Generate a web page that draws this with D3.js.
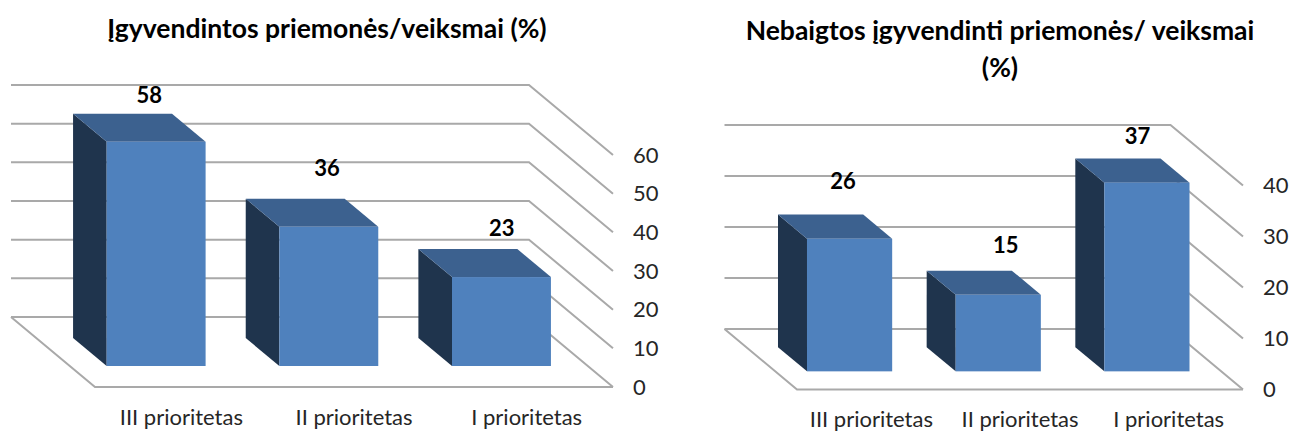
<!DOCTYPE html>
<html>
<head>
<meta charset="utf-8">
<script src="https://cdn.jsdelivr.net/npm/d3@7"></script>
<style>
  html, body { margin: 0; padding: 0; background: #fff; }
  svg { display: block; font-family: Lato, "Open Sans", sans-serif; }
</style>
</head>
<body>
<div id="chart"></div>
<script>
// values
var categories = ["III prioritetas", "II prioritetas", "I prioritetas"];
var doneValues = [58, 36, 23];
var unfinishedValues = [26, 15, 37];
var doneTicks = [0, 10, 20, 30, 40, 50, 60];
var unfinishedTicks = [0, 10, 20, 30, 40];
var doneTitle = ["Įgyvendintos priemonės/veiksmai (%)"];
var unfinishedTitle = ["Nebaigtos įgyvendinti priemonės/ veiksmai", "(%)"];

var svg = d3.select("#chart").append("svg")
  .attr("width", 1291)
  .attr("height", 433);

function drawChart(o) {
  var g = svg.append("g");

  // x and y are scales on the front edge of the floor
  var x = d3.scaleBand().domain(categories).range([o.left, o.right]);
  var y = d3.scaleLinear().domain([0, d3.max(o.ticks)]).range([o.bottom, o.top]);

  // move a point back into the depth of the box, t = 0 front, t = 1 back wall
  function px(v, t) { return v - t * o.dx; }
  function py(v, t) { return v - t * o.dy; }

  var line = d3.line();

  // walls: gridline on the back wall then the diagonal on the side wall
  g.selectAll(".grid").data(o.ticks).enter().append("path")
    .attr("class", "grid")
    .attr("fill", "none")
    .attr("stroke", "#a9a9a9")
    .attr("stroke-width", 2)
    .attr("d", function (d) {
      return line([
        [px(o.left, 1), py(y(d), 1)],
        [px(o.right, 1), py(y(d), 1)],
        [o.right, y(d)]
      ]);
    });

  // floor
  g.append("path")
    .attr("fill", "none")
    .attr("stroke", "#a9a9a9")
    .attr("stroke-width", 2)
    .attr("d", line([
      [px(o.left, 1), py(y(0), 1)],
      [o.left, y(0)],
      [o.right, y(0)]
    ]));

  // bars sit between 30% and 70% of the depth
  var bandW = x.bandwidth();
  var barW = bandW * 0.573;
  var t0 = 0.3, t1 = 0.7;
  var bars = g.selectAll(".bar").data(o.values).enter().append("g").attr("class", "bar");

  function xLeft(d, i) { return x(categories[i]) + (bandW - barW) / 2 - t0 * o.dx; }

  // left side
  bars.append("path")
    .attr("fill", "#1f344d")
    .attr("d", function (d, i) {
      var a = xLeft(d, i) , dd = (t1 - t0);
      return line([
        [a, py(y(d), t0)],
        [a - dd * o.dx, py(y(d), t1)],
        [a - dd * o.dx, py(y(0), t1)],
        [a, py(y(0), t0)]
      ]) + "Z";
    });

  // top
  bars.append("path")
    .attr("fill", "#3c618f")
    .attr("d", function (d, i) {
      var a = xLeft(d, i), dd = (t1 - t0);
      return line([
        [a, py(y(d), t0)],
        [a + barW, py(y(d), t0)],
        [a + barW - dd * o.dx, py(y(d), t1)],
        [a - dd * o.dx, py(y(d), t1)]
      ]) + "Z";
    });

  // front
  bars.append("rect")
    .attr("fill", "#4f81bd")
    .attr("x", xLeft)
    .attr("y", function (d) { return py(y(d), t0); })
    .attr("width", barW)
    .attr("height", function (d) { return y(0) - y(d); });

  // value labels, some of them were moved by hand in the original
  g.selectAll(".val").data(o.values).enter().append("text")
    .attr("class", "val")
    .attr("text-anchor", "middle")
    .attr("font-size", 22)
    .attr("font-weight", 700)
    .attr("fill", "#000")
    .attr("x", function (d, i) { return xLeft(d, i) + barW / 2 - 0.2 * o.dx + o.nudgeX[i]; })
    .attr("y", function (d, i) { return py(y(d), 0.5) + o.nudgeY[i]; })
    .text(function (d) { return d; });

  // value axis on the right
  var yAxis = g.append("g")
    .attr("transform", "translate(" + o.right + ",0)")
    .call(d3.axisRight(y).tickValues(o.ticks).tickSize(0).tickPadding(20));
  yAxis.select(".domain").remove();
  yAxis.selectAll("text").attr("font-size", 22).attr("font-family", "Lato").attr("fill", "#262626");

  // category axis
  var xAxis = g.append("g")
    .attr("transform", "translate(0," + o.catY + ")")
    .call(d3.axisBottom(x).tickSize(0).tickPadding(0));
  xAxis.select(".domain").remove();
  xAxis.selectAll("text").attr("font-size", 22).attr("font-family", "Lato").attr("fill", "#262626");

  // title
  g.selectAll(".title").data(o.title).enter().append("text")
    .attr("class", "title")
    .attr("text-anchor", "middle")
    .attr("x", o.titleX)
    .attr("y", function (d, i) { return o.titleY + i * 37; })
    .attr("font-size", 26.5)
    .attr("font-weight", 700)
    .attr("fill", "#000")
    .text(function (d) { return d; });
}

drawChart({
  values: doneValues, ticks: doneTicks, title: doneTitle,
  left: 95, right: 613, bottom: 387, top: 155, dx: 84, dy: 70,
  catY: 409, titleX: 327, titleY: 38,
  nudgeX: [10, 15, 17], nudgeY: [-25, -37, -27]
});

drawChart({
  values: unfinishedValues, ticks: unfinishedTicks, title: unfinishedTitle,
  left: 797, right: 1243, bottom: 389.5, top: 185.5, dx: 72.5, dy: 60.5,
  catY: 411, titleX: 1000, titleY: 40,
  nudgeX: [8, 22, 5], nudgeY: [-38, -30, -27]
});
</script>
</body>
</html>
